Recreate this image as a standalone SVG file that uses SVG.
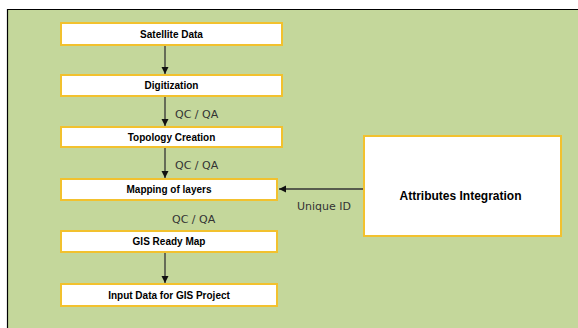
<svg xmlns="http://www.w3.org/2000/svg" width="578" height="328" viewBox="0 0 578 328">
<style>
.box{fill:#ffffff;stroke:#f2c12e;stroke-width:2}
.lbl{font-family:"Liberation Sans",Arial,sans-serif;font-weight:bold;font-size:10px;fill:#000;text-anchor:middle}
.big{font-size:12px}
.note{font-family:"DejaVu Sans",Verdana,sans-serif;font-size:11px;fill:#333}
.con{stroke:#333;stroke-width:1.3;fill:none;marker-end:url(#ah)}
</style>
<defs>
<marker id="ah" markerWidth="8" markerHeight="8" refX="7" refY="4" orient="auto" markerUnits="userSpaceOnUse">
<path d="M0,0.5 L7,4 L0,7.5 Z" fill="#111"/>
</marker>
</defs>
<rect x="0" y="0" width="578" height="328" fill="#ffffff"/>
<rect x="7.5" y="9.5" width="571" height="319" fill="#c4d79b"/>
<path d="M7.5,328 V9.5 H578" fill="none" stroke="#000" stroke-width="1.2"/>
<g id="connectors">
<line class="con" x1="165" y1="46" x2="165" y2="74"/>
<line class="con" x1="165" y1="97" x2="165" y2="126"/>
<line class="con" x1="165" y1="148" x2="165" y2="178"/>
<line class="con" x1="165" y1="253" x2="165" y2="283"/>
<line class="con" x1="363" y1="189" x2="279" y2="189"/>
<text class="note" x="175" y="118">QC / QA</text>
<text class="note" x="175" y="169">QC / QA</text>
<text class="note" x="172" y="223">QC / QA</text>
<text class="note" x="297" y="210">Unique ID</text>
</g>
<g id="satellite">
<rect class="box" x="61" y="23" width="221" height="22"/>
<text class="lbl" x="171.5" y="37.5">Satellite Data</text>
</g>
<g id="digitization">
<rect class="box" x="61" y="75" width="221" height="21"/>
<text class="lbl" x="171.5" y="89">Digitization</text>
</g>
<g id="topology">
<rect class="box" x="61" y="127" width="221" height="20"/>
<text class="lbl" x="171.5" y="140.5">Topology Creation</text>
</g>
<g id="mapping">
<rect class="box" x="61" y="179" width="216" height="21"/>
<text class="lbl" x="169" y="193">Mapping of layers</text>
</g>
<g id="gisready">
<rect class="box" x="61" y="231" width="216" height="21"/>
<text class="lbl" x="169" y="245">GIS Ready Map</text>
</g>
<g id="inputdata">
<rect class="box" x="61" y="284" width="216" height="22"/>
<text class="lbl" x="169" y="298.5">Input Data for GIS Project</text>
</g>
<g id="attributes">
<rect class="box" x="364" y="136" width="197" height="100"/>
<text class="lbl big" x="460.5" y="200">Attributes Integration</text>
</g>
</svg>
